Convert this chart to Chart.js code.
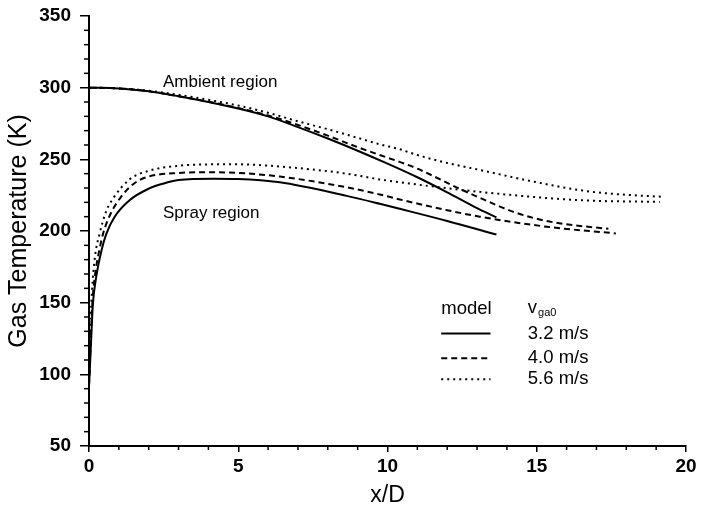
<!DOCTYPE html>
<html>
<head>
<meta charset="utf-8">
<script src="https://cdn.jsdelivr.net/npm/chart.js@4/dist/chart.umd.min.js"></script>
<style>
  html, body { margin: 0; padding: 0; background: #fff; }
  #wrap { width: 701px; height: 512px; }
</style>
</head>
<body>
<div id="wrap"><canvas id="c" width="701" height="512"></canvas></div>
<script>
// ---- data ----
const ambSolidX  = [0, 1, 2, 3, 4, 5, 6, 7, 8, 9, 10, 11, 12, 13, 13.65];
const ambSolidY  = [300, 299.5, 297.5, 294, 290, 285.5, 280, 272.5, 264.5, 256, 247, 237.5, 227, 216, 209.5];
const ambDashX   = [0, 1, 2, 3, 4, 5, 6, 7, 8, 9, 9.74, 10.41, 11, 12.31, 13, 14.2, 15, 15.88, 17.4];
const ambDashY   = [300, 299.5, 297.5, 294, 290.2, 285.8, 280.6, 274, 266.5, 258.5, 253, 248.2, 243.5, 230.5, 224, 213.5, 208.5, 205, 201.5];
const ambDotX    = [0, 1, 2, 3, 4, 5, 6, 7, 8, 9, 9.74, 10.41, 11, 12, 13, 14.2, 15, 16.44, 17.5, 19.24];
const ambDotY    = [300, 299.5, 297.8, 295, 291.5, 287.5, 282.5, 276.5, 271, 265, 260.5, 257, 253, 247.5, 243, 237.5, 234, 228.5, 226, 223.8];

const spSolidX   = [0, 0.02, 0.08, 0.13, 0.25, 0.42, 0.58, 0.86, 1.36, 2, 2.48, 3, 4.16, 5, 6.39, 8.63, 9.74, 10.41, 12, 13.65];
const spSolidY   = [92, 100, 128, 149, 169, 186.5, 198, 210, 221.5, 229.5, 233, 235.5, 236.5, 236.3, 234, 224.5, 219, 215.5, 207, 197.5];
const spDashX    = [0, 0.02, 0.07, 0.12, 0.22, 0.36, 0.47, 0.7, 1.08, 1.5, 1.92, 3, 4, 5, 6.39, 8.63, 9.74, 10.41, 12, 13.09, 15.33, 17.65];
const spDashY    = [92, 102, 130, 152, 172, 188, 198, 211, 224, 233, 237.5, 240.5, 241, 240.5, 238, 230.5, 225.5, 222, 214.5, 210, 203, 198.3];
const spDotX     = [0, 0.01, 0.05, 0.1, 0.2, 0.36, 0.58, 0.8, 1.36, 2, 3, 4.16, 5, 6.39, 8.63, 9.74, 10.41, 13.09, 16.44, 19.12];
const spDotY     = [92, 105, 135, 158, 182, 198.5, 214, 222.5, 236, 242, 245.5, 246.5, 246.5, 245, 240, 236, 234, 227.3, 221.5, 220.3];

const xTicks = [0, 5, 10, 15, 20];
const yTicks = [50, 100, 150, 200, 250, 300, 350];
const legendRows = ["3.2 m/s", "4.0 m/s", "5.6 m/s"];

function pts(xs, ys) { return xs.map((x, i) => ({ x: x, y: ys[i] })); }

const SOLID = [], DASH = [6, 4], DOT = [2, 4];

function ds(xs, ys, dash) {
  return {
    data: pts(xs, ys),
    showLine: true,
    borderColor: '#000',
    borderWidth: 2,
    borderDash: dash,
    pointRadius: 0,
    cubicInterpolationMode: 'monotone',
    fill: false
  };
}

const FONT = '"Liberation Sans", Arial, Helvetica, sans-serif';

const extras = {
  id: 'extras',
  afterDraw(chart) {
    const ctx = chart.ctx;
    const xs = chart.scales.x, ys = chart.scales.y;
    const ca = chart.chartArea;
    ctx.save();
    ctx.strokeStyle = '#000';
    ctx.lineWidth = 1.5;
    // minor ticks
    for (let v = 0; v <= 20; v += 1) {
      if (v % 5 === 0) continue;
      const px = xs.getPixelForValue(v);
      ctx.beginPath(); ctx.moveTo(px, ca.bottom); ctx.lineTo(px, ca.bottom + 4); ctx.stroke();
    }
    for (let v = 50; v <= 350; v += 10) {
      if (v % 50 === 0) continue;
      const py = ys.getPixelForValue(v);
      ctx.beginPath(); ctx.moveTo(ca.left - 5, py); ctx.lineTo(ca.left, py); ctx.stroke();
    }
    // annotations
    ctx.fillStyle = '#000';
    ctx.textBaseline = 'middle';
    ctx.textAlign = 'left';
    ctx.font = '17px ' + FONT;
    ctx.fillText('Ambient region', xs.getPixelForValue(2.48), ys.getPixelForValue(303.5));
    ctx.fillText('Spray region', xs.getPixelForValue(2.48), ys.getPixelForValue(212.5));
    // legend
    const lx0 = xs.getPixelForValue(11.8), lx1 = xs.getPixelForValue(13.45);
    const tx = xs.getPixelForValue(14.7);
    ctx.font = '18.5px ' + FONT;
    ctx.fillText('model', lx0, ys.getPixelForValue(145.5));
    ctx.fillText('v', tx, ys.getPixelForValue(146.5));
    const vw = ctx.measureText('v').width;
    ctx.font = '11px ' + FONT;
    ctx.fillText('ga0', tx + vw + 1, ys.getPixelForValue(142.5));
    ctx.font = '18.5px ' + FONT;
    const rowY = [128.5, 111.3, 96.6];
    const dashes = [SOLID, DASH, DOT];
    for (let i = 0; i < 3; i++) {
      const py = ys.getPixelForValue(rowY[i]);
      ctx.lineWidth = 2;
      ctx.setLineDash(dashes[i]);
      ctx.beginPath(); ctx.moveTo(lx0, py); ctx.lineTo(lx1, py); ctx.stroke();
      ctx.setLineDash([]);
      ctx.fillText(legendRows[i], tx, py);
    }
    ctx.restore();
  }
};

new Chart(document.getElementById('c'), {
  type: 'scatter',
  data: {
    datasets: [
      ds(ambSolidX, ambSolidY, SOLID),
      ds(ambDashX, ambDashY, DASH),
      ds(ambDotX, ambDotY, DOT),
      ds(spSolidX, spSolidY, SOLID),
      ds(spDashX, spDashY, DASH),
      ds(spDotX, spDotY, DOT)
    ]
  },
  options: {
    responsive: false,
    animation: false,
    events: [],
    layout: { padding: { top: 16, right: 15, left: 0, bottom: 0 } },
    plugins: { legend: { display: false }, tooltip: { enabled: false } },
    scales: {
      x: {
        type: 'linear', min: 0, max: 20,
        afterBuildTicks: s => { s.ticks = xTicks.map(v => ({ value: v })); },
        afterFit: s => { s.height = 66; s.paddingLeft = 0; s.paddingRight = 0; },
        ticks: { color: '#000', font: { family: FONT, size: 19, weight: 'bold' }, padding: 3, maxRotation: 0 },
        grid: { drawOnChartArea: false, drawTicks: true, tickLength: 6, color: '#000', lineWidth: 1.5 },
        border: { display: true, color: '#000', width: 2 },
        title: { display: true, text: 'x/D', color: '#000', font: { family: FONT, size: 23 }, padding: { top: 0, bottom: 3 } }
      },
      y: {
        type: 'linear', min: 50, max: 350,
        afterBuildTicks: s => { s.ticks = yTicks.map(v => ({ value: v })); },
        afterFit: s => { s.width = 89; s.paddingTop = 0; s.paddingBottom = 0; },
        ticks: { color: '#000', font: { family: FONT, size: 19, weight: 'bold' }, padding: 9 },
        grid: { drawOnChartArea: false, drawTicks: true, tickLength: 9, color: '#000', lineWidth: 1.5 },
        border: { display: true, color: '#000', width: 2 },
        title: { display: true, text: 'Gas Temperature (K)', color: '#000', font: { family: FONT, size: 25 }, padding: { top: 4, bottom: 0 } }
      }
    }
  },
  plugins: [extras]
});
</script>
</body>
</html>
